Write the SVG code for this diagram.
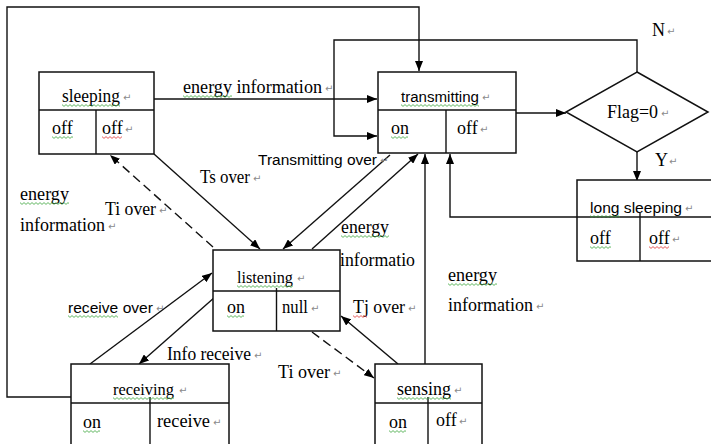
<svg xmlns="http://www.w3.org/2000/svg" width="711" height="444" viewBox="0 0 711 444">
  <defs>
    <style>
      .box { fill: #fff; stroke: #111; stroke-width: 1.5; }
      .div { stroke: #111; stroke-width: 1.4; fill: none; }
      .ln { stroke: #111; stroke-width: 1.4; fill: none; }
      .dash { stroke-dasharray: 9 5; }
      .arr { marker-end: url(#ah); }
      text { fill: #000; }
      .s { font-family: "Liberation Serif", "Times New Roman", serif; font-size: 18px; }
      .s2 { font-size: 16.5px; }
      .a { font-family: "Liberation Sans", Arial, sans-serif; font-size: 15.5px; }
      .pm { font-family: "DejaVu Sans", sans-serif; font-size: 10px; fill: #8a8a8a; }
      .sg { fill: url(#wg); }
      .sr { fill: url(#wr); }
    </style>
    <marker id="ah" viewBox="0 0 10 8" markerWidth="10" markerHeight="8" refX="10" refY="4" orient="auto" markerUnits="userSpaceOnUse">
      <path d="M0,0 L10,4 L0,8 Z" fill="#000"/>
    </marker>
    <!-- wavy spell-check underlines -->
    <pattern id="wg" width="4" height="3" patternUnits="userSpaceOnUse">
      <path d="M0,0.6 L2,2.4 L4,0.6" fill="none" stroke="#3aa43a" stroke-width="0.8"/>
    </pattern>
    <pattern id="wr" width="4" height="3" patternUnits="userSpaceOnUse">
      <path d="M0,0.6 L2,2.4 L4,0.6" fill="none" stroke="#e03030" stroke-width="0.8"/>
    </pattern>
  </defs>

  <rect width="711" height="444" fill="#fff"/>

  <!-- connectors -->
  <g id="connectors">
    <polyline class="ln arr" points="71,397 7,397 7,7 419,7 419,71"/>
    <line class="ln arr" x1="154" y1="99" x2="377" y2="99"/>
    <line class="ln arr" x1="516" y1="113" x2="566" y2="113"/>
    <polyline class="ln arr" points="637,72 637,40 334,40 334,136 377,136"/>
    <line class="ln arr" x1="637" y1="152" x2="637" y2="181"/>
    <polyline class="ln arr" points="577,217 450,217 450,154"/>
    <line class="ln arr" x1="425" y1="364" x2="425" y2="154"/>
    <line class="ln arr" x1="312" y1="249" x2="418" y2="154"/>
    <line class="ln arr" x1="390" y1="155" x2="283" y2="249"/>
    <line class="ln arr" x1="154" y1="154" x2="260" y2="249"/>
    <line class="ln arr dash" x1="213" y1="247" x2="110" y2="155"/>
    <line class="ln arr" x1="90" y1="364" x2="212" y2="273"/>
    <line class="ln arr" x1="215" y1="297" x2="139" y2="364"/>
    <line class="ln arr" x1="398" y1="364" x2="341" y2="316"/>
    <line class="ln arr dash" x1="312" y1="332" x2="374" y2="378"/>
  </g>

  <!-- sleeping -->
  <g id="sleeping">
    <rect class="box" x="39" y="72" width="115" height="82"/>
    <line class="div" x1="39" y1="110" x2="154" y2="110"/>
    <line class="div" x1="96" y1="110" x2="96" y2="154"/>
    <text class="s" x="62" y="102" textLength="58" lengthAdjust="spacingAndGlyphs">sleeping</text>
    <text class="pm" x="123" y="101">↵</text>
    <rect class="sg" transform="translate(62,104)" width="58" height="3"/>
    <text class="s" x="52" y="134">off</text>
    <rect class="sg" transform="translate(52,136)" width="21" height="3"/>
    <text class="s" x="102" y="134">off</text>
    <text class="pm" x="125" y="133">↵</text>
    <rect class="sr" transform="translate(102,136)" width="20" height="3"/>
  </g>

  <!-- transmitting -->
  <g id="transmitting">
    <rect class="box" x="378" y="72" width="138" height="81"/>
    <line class="div" x1="378" y1="110" x2="516" y2="110"/>
    <line class="div" x1="446" y1="110" x2="446" y2="153"/>
    <text class="a" x="401" y="102" textLength="78" lengthAdjust="spacingAndGlyphs">transmitting</text>
    <text class="pm" x="482" y="101">↵</text>
    <rect class="sg" transform="translate(401,104)" width="78" height="3"/>
    <text class="s" x="391" y="134">on</text>
    <rect class="sg" transform="translate(391,136)" width="17" height="3"/>
    <text class="s" x="457" y="134">off</text>
    <text class="pm" x="480" y="133">↵</text>
  </g>

  <!-- decision -->
  <g id="flag">
    <polygon class="box" points="637,72 708,112 637,152 566,112"/>
    <text class="s" x="607" y="118" textLength="51" lengthAdjust="spacingAndGlyphs">Flag=0</text>
    <text class="pm" x="661" y="117">↵</text>
    <text class="s" x="652" y="36">N</text>
    <text class="pm" x="667" y="35">↵</text>
    <text class="s" x="655" y="166">Y</text>
    <text class="pm" x="669" y="165">↵</text>
  </g>

  <!-- long sleeping -->
  <g id="long-sleeping">
    <rect class="box" x="577" y="180" width="150" height="81"/>
    <line class="div" x1="577" y1="217" x2="727" y2="217"/>
    <line class="div" x1="640" y1="213" x2="640" y2="261"/>
    <text class="a" x="590" y="213" textLength="92" lengthAdjust="spacingAndGlyphs">long sleeping</text>
    <text class="pm" x="685" y="212">↵</text>
    <rect class="sg" transform="translate(590,215)" width="30" height="3"/>
    <text class="s" x="590" y="244">off</text>
    <rect class="sg" transform="translate(590,246)" width="21" height="3"/>
    <text class="s" x="649" y="244">off</text>
    <text class="pm" x="672" y="243">↵</text>
    <rect class="sr" transform="translate(649,246)" width="20" height="3"/>
  </g>

  <!-- listening -->
  <g id="listening">
    <rect class="box" x="213" y="250" width="127" height="81"/>
    <line class="div" x1="213" y1="291" x2="340" y2="291"/>
    <line class="div" x1="276.5" y1="288" x2="276.5" y2="331"/>
    <text class="s s2" x="237" y="283" textLength="56" lengthAdjust="spacingAndGlyphs">listening</text>
    <text class="pm" x="297" y="282">↵</text>
    <rect class="sg" transform="translate(237,285)" width="56" height="3"/>
    <text class="s" x="227" y="313">on</text>
    <rect class="sg" transform="translate(227,315)" width="17" height="3"/>
    <text class="s" x="282" y="313" textLength="26" lengthAdjust="spacingAndGlyphs">null</text>
    <text class="pm" x="311" y="312">↵</text>
  </g>

  <!-- receiving -->
  <g id="receiving">
    <rect class="box" x="71" y="364" width="158" height="100"/>
    <line class="div" x1="71" y1="403" x2="229" y2="403"/>
    <line class="div" x1="150" y1="397" x2="150" y2="444"/>
    <text class="s s2" x="113" y="395" textLength="61" lengthAdjust="spacingAndGlyphs">receiving</text>
    <text class="pm" x="179" y="394">↵</text>
    <rect class="sg" transform="translate(113,397)" width="61" height="3"/>
    <text class="s" x="83" y="428">on</text>
    <rect class="sg" transform="translate(83,430)" width="17" height="3"/>
    <text class="s" x="157" y="427" textLength="53" lengthAdjust="spacingAndGlyphs">receive</text>
    <text class="pm" x="213" y="426">↵</text>
  </g>

  <!-- sensing -->
  <g id="sensing">
    <rect class="box" x="375" y="364" width="107" height="100"/>
    <line class="div" x1="375" y1="403" x2="482" y2="403"/>
    <line class="div" x1="428" y1="397" x2="428" y2="444"/>
    <text class="s" x="397" y="395" textLength="54" lengthAdjust="spacingAndGlyphs">sensing</text>
    <text class="pm" x="454" y="394">↵</text>
    <rect class="sg" transform="translate(397,397)" width="54" height="3"/>
    <text class="s" x="389" y="428">on</text>
    <rect class="sg" transform="translate(389,430)" width="17" height="3"/>
    <text class="s" x="436" y="426">off</text>
    <text class="pm" x="459" y="425">↵</text>
  </g>

  <!-- connector labels -->
  <g id="labels">
    <text class="s" x="183" y="93" textLength="139" lengthAdjust="spacingAndGlyphs">energy information</text>
    <text class="pm" x="325" y="92">↵</text>
    <rect class="sg" transform="translate(183,95)" width="49" height="3"/>

    <text class="s" x="200" y="183" textLength="50" lengthAdjust="spacingAndGlyphs">Ts over</text>
    <text class="pm" x="253" y="182">↵</text>

    <text class="a" x="258" y="165" textLength="119" lengthAdjust="spacingAndGlyphs">Transmitting over</text>
    <text class="pm" x="380" y="164">↵</text>

    <text class="s" x="20" y="200" textLength="49" lengthAdjust="spacingAndGlyphs">energy</text>
    <rect class="sg" transform="translate(20,202)" width="49" height="3"/>
    <text class="s" x="20" y="231" textLength="85" lengthAdjust="spacingAndGlyphs">information</text>
    <text class="pm" x="108" y="230">↵</text>

    <text class="s" x="105" y="215" textLength="51" lengthAdjust="spacingAndGlyphs">Ti over</text>
    <text class="pm" x="159" y="214">↵</text>

    <text class="s" x="341" y="233" textLength="48" lengthAdjust="spacingAndGlyphs">energy</text>
    <rect class="sg" transform="translate(341,235)" width="48" height="3"/>
    <text class="s" x="340" y="266" textLength="75" lengthAdjust="spacingAndGlyphs">informatio</text>

    <text class="a" x="68" y="313" textLength="85" lengthAdjust="spacingAndGlyphs">receive over</text>
    <text class="pm" x="156" y="312">↵</text>
    <rect class="sg" transform="translate(68,315)" width="50" height="3"/>

    <text class="s" x="167" y="360" textLength="84" lengthAdjust="spacingAndGlyphs">Info receive</text>
    <text class="pm" x="254" y="359">↵</text>

    <text class="s" x="353" y="313" textLength="52" lengthAdjust="spacingAndGlyphs">Tj over</text>
    <text class="pm" x="408" y="312">↵</text>
    <rect class="sr" transform="translate(353,315)" width="14" height="3"/>

    <text class="s" x="278" y="378" textLength="52" lengthAdjust="spacingAndGlyphs">Ti over</text>
    <text class="pm" x="333" y="377">↵</text>

    <text class="s" x="448" y="281" textLength="49" lengthAdjust="spacingAndGlyphs">energy</text>
    <rect class="sg" transform="translate(448,283)" width="49" height="3"/>
    <text class="s" x="448" y="311" textLength="85" lengthAdjust="spacingAndGlyphs">information</text>
    <text class="pm" x="536" y="310">↵</text>
  </g>
</svg>
